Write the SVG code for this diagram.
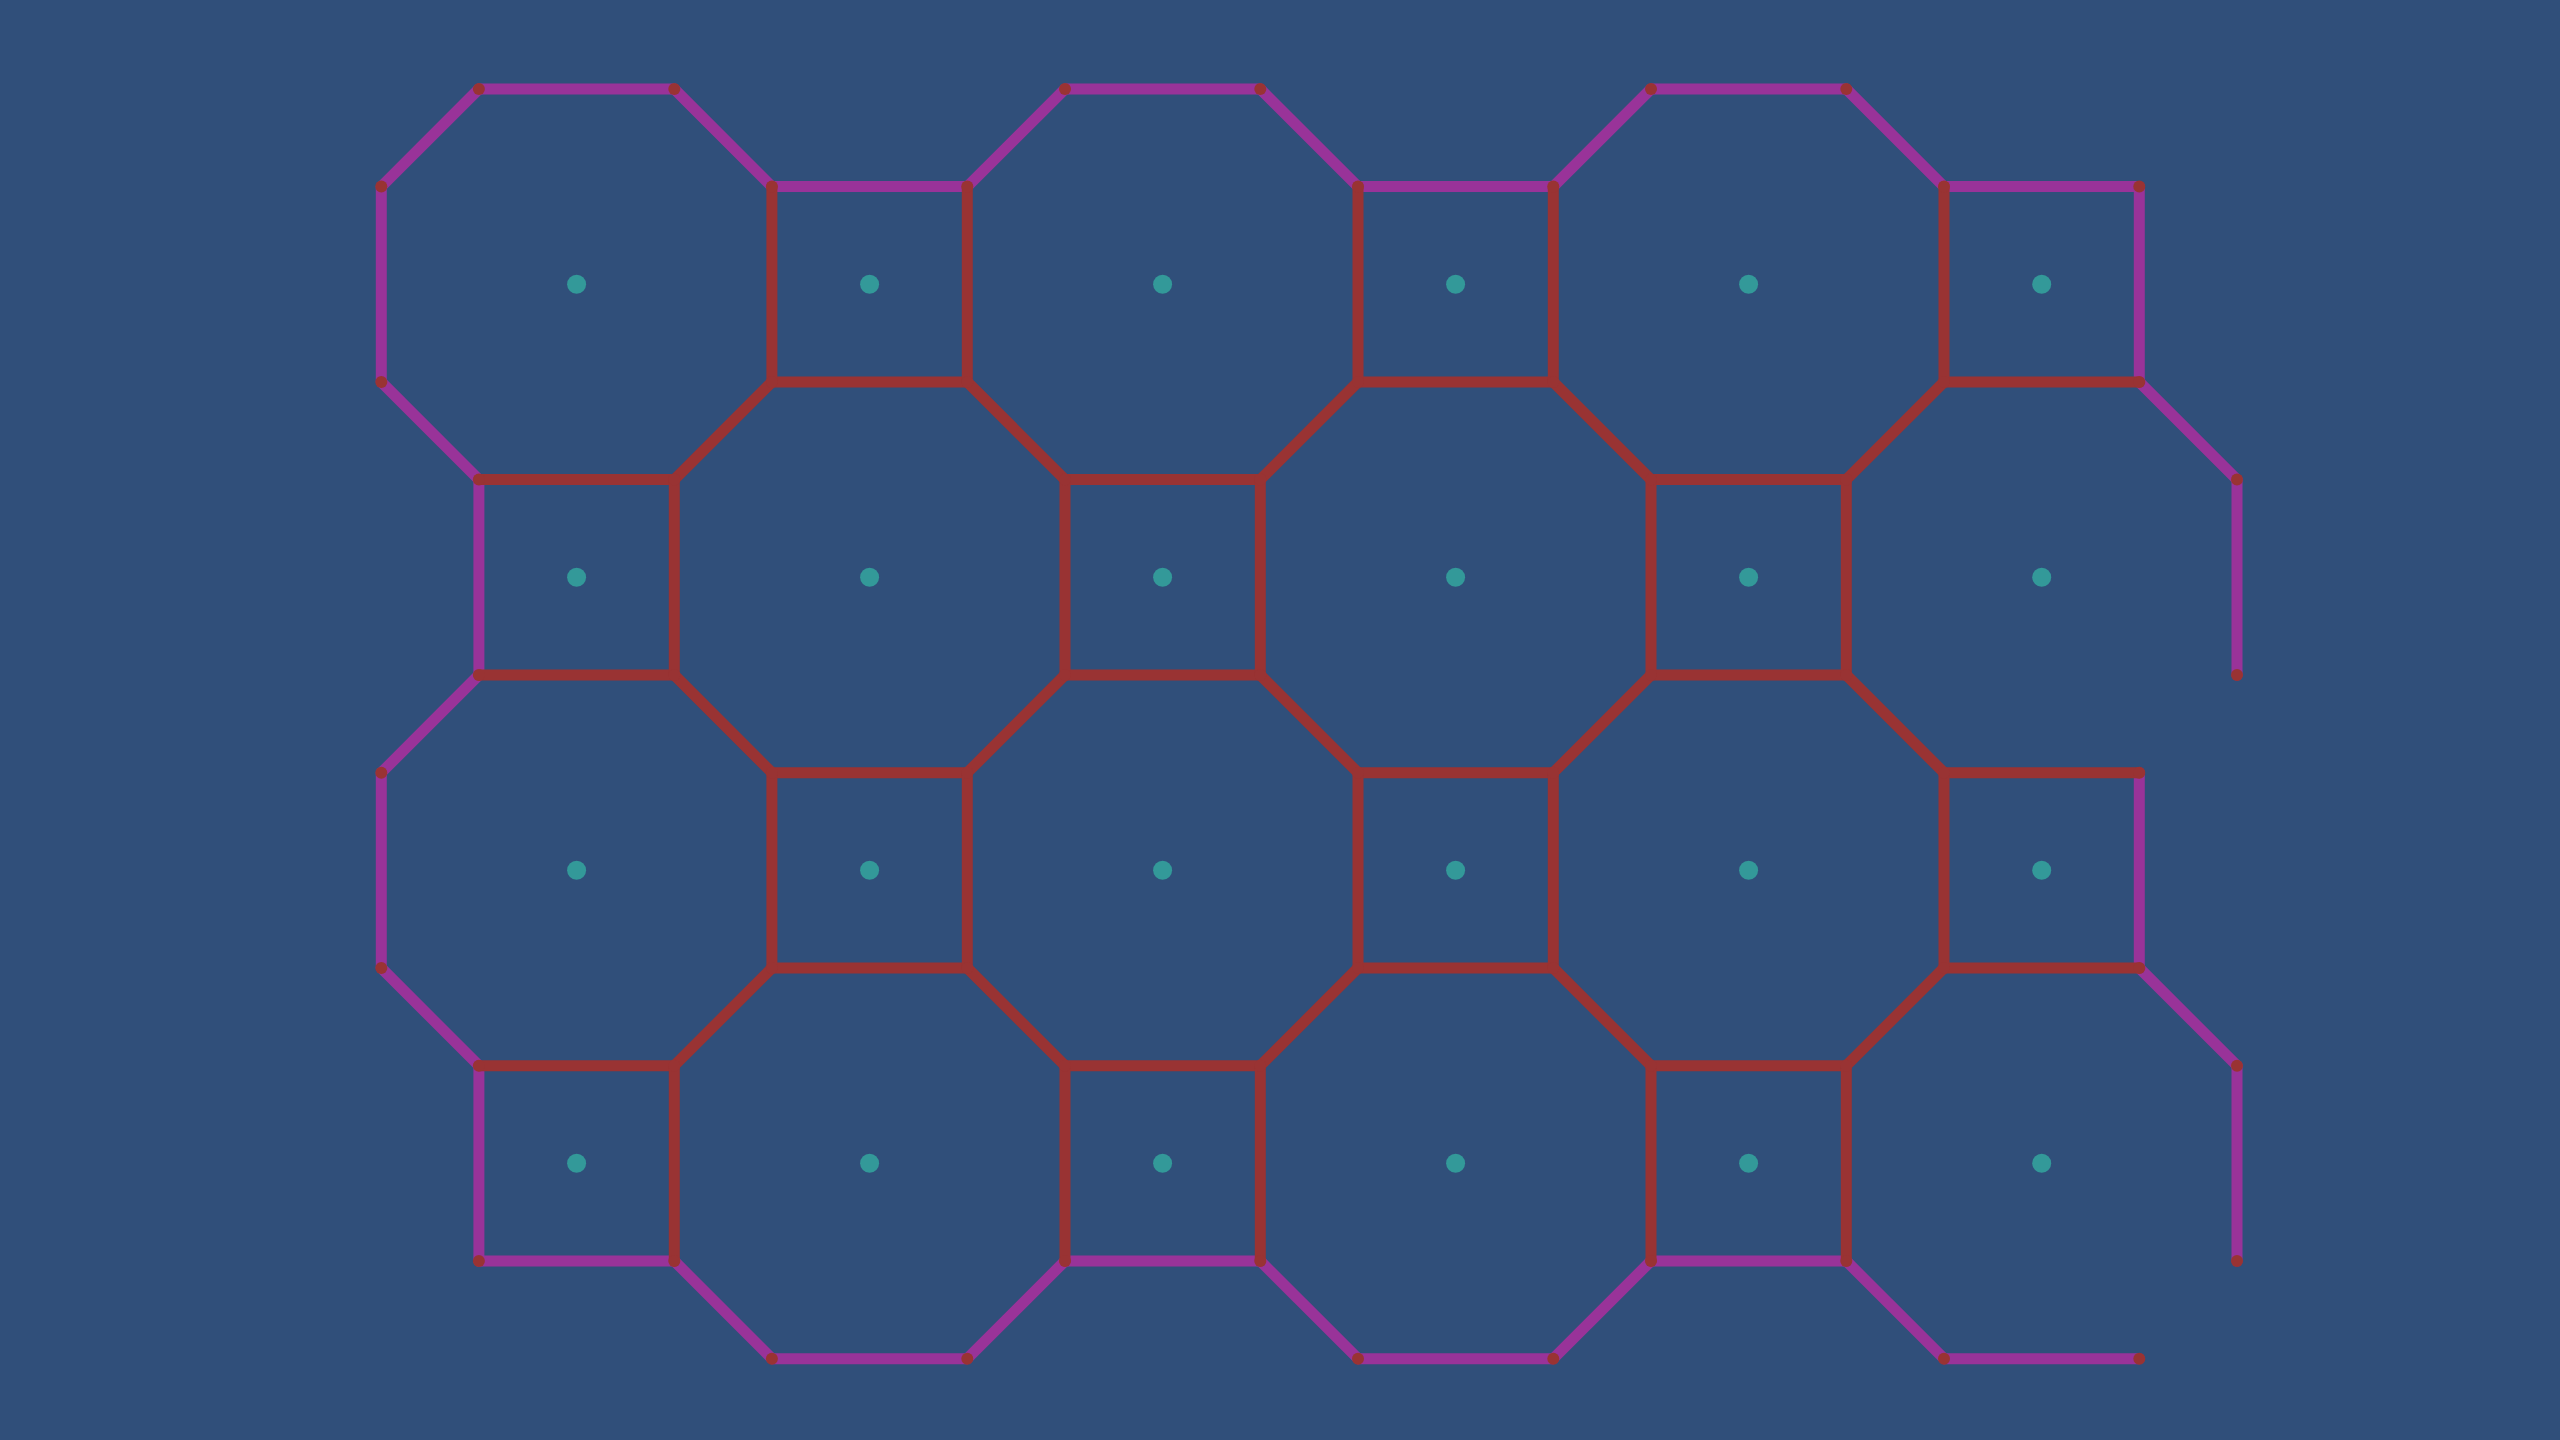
<svg xmlns="http://www.w3.org/2000/svg" width="2560" height="1440" viewBox="0 0 2560 1440">
<style>
.bg{fill:#304f7a}
.p{stroke:#993399;stroke-width:11;stroke-linecap:round;fill:none}
.r{stroke:#993333;stroke-width:11;stroke-linecap:round;fill:none}
.v{fill:#993333}
.c{fill:#339999}
</style>
<rect class="bg" x="0" y="0" width="2560" height="1440"/>
<g id="connectors">
<g id="boundary-edges" class="p">
<line x1="478.9" y1="89" x2="674.3" y2="89"/>
<line x1="1065" y1="89" x2="1260.3" y2="89"/>
<line x1="1651" y1="89" x2="1846.3" y2="89"/>
<line x1="771.9" y1="186.6" x2="967.3" y2="186.6"/>
<line x1="1358" y1="186.6" x2="1553.3" y2="186.6"/>
<line x1="1944" y1="186.6" x2="2139.3" y2="186.6"/>
<line x1="478.9" y1="1261" x2="674.3" y2="1261"/>
<line x1="1065" y1="1261" x2="1260.3" y2="1261"/>
<line x1="1651" y1="1261" x2="1846.3" y2="1261"/>
<line x1="771.9" y1="1358.7" x2="967.3" y2="1358.7"/>
<line x1="1358" y1="1358.7" x2="1553.3" y2="1358.7"/>
<line x1="1944" y1="1358.7" x2="2139.3" y2="1358.7"/>
<line x1="381.3" y1="186.6" x2="381.3" y2="382"/>
<line x1="381.3" y1="772.7" x2="381.3" y2="968"/>
<line x1="2139.3" y1="186.6" x2="2139.3" y2="382"/>
<line x1="2139.3" y1="772.7" x2="2139.3" y2="968"/>
<line x1="478.9" y1="479.6" x2="478.9" y2="675"/>
<line x1="478.9" y1="1065.7" x2="478.9" y2="1261"/>
<line x1="2237" y1="479.6" x2="2237" y2="675"/>
<line x1="2237" y1="1065.7" x2="2237" y2="1261"/>
<line x1="381.3" y1="186.6" x2="478.9" y2="89"/>
<line x1="674.3" y1="89" x2="771.9" y2="186.6"/>
<line x1="381.3" y1="382" x2="478.9" y2="479.6"/>
<line x1="967.3" y1="186.6" x2="1065" y2="89"/>
<line x1="1260.3" y1="89" x2="1358" y2="186.6"/>
<line x1="1553.3" y1="186.6" x2="1651" y2="89"/>
<line x1="1846.3" y1="89" x2="1944" y2="186.6"/>
<line x1="2139.3" y1="382" x2="2237" y2="479.6"/>
<line x1="381.3" y1="772.7" x2="478.9" y2="675"/>
<line x1="381.3" y1="968" x2="478.9" y2="1065.7"/>
<line x1="2139.3" y1="968" x2="2237" y2="1065.7"/>
<line x1="674.3" y1="1261" x2="771.9" y2="1358.7"/>
<line x1="967.3" y1="1358.7" x2="1065" y2="1261"/>
<line x1="1260.3" y1="1261" x2="1358" y2="1358.7"/>
<line x1="1553.3" y1="1358.7" x2="1651" y2="1261"/>
<line x1="1846.3" y1="1261" x2="1944" y2="1358.7"/>
</g>
<g id="shared-edges" class="r">
<line x1="478.9" y1="479.6" x2="674.3" y2="479.6"/>
<line x1="1065" y1="479.6" x2="1260.3" y2="479.6"/>
<line x1="1651" y1="479.6" x2="1846.3" y2="479.6"/>
<line x1="478.9" y1="675" x2="674.3" y2="675"/>
<line x1="1065" y1="675" x2="1260.3" y2="675"/>
<line x1="1651" y1="675" x2="1846.3" y2="675"/>
<line x1="478.9" y1="1065.7" x2="674.3" y2="1065.7"/>
<line x1="1065" y1="1065.7" x2="1260.3" y2="1065.7"/>
<line x1="1651" y1="1065.7" x2="1846.3" y2="1065.7"/>
<line x1="771.9" y1="382" x2="967.3" y2="382"/>
<line x1="1358" y1="382" x2="1553.3" y2="382"/>
<line x1="1944" y1="382" x2="2139.3" y2="382"/>
<line x1="771.9" y1="772.7" x2="967.3" y2="772.7"/>
<line x1="1358" y1="772.7" x2="1553.3" y2="772.7"/>
<line x1="1944" y1="772.7" x2="2139.3" y2="772.7"/>
<line x1="771.9" y1="968" x2="967.3" y2="968"/>
<line x1="1358" y1="968" x2="1553.3" y2="968"/>
<line x1="1944" y1="968" x2="2139.3" y2="968"/>
<line x1="771.9" y1="186.6" x2="771.9" y2="382"/>
<line x1="967.3" y1="186.6" x2="967.3" y2="382"/>
<line x1="1358" y1="186.6" x2="1358" y2="382"/>
<line x1="1553.3" y1="186.6" x2="1553.3" y2="382"/>
<line x1="1944" y1="186.6" x2="1944" y2="382"/>
<line x1="771.9" y1="772.7" x2="771.9" y2="968"/>
<line x1="967.3" y1="772.7" x2="967.3" y2="968"/>
<line x1="1358" y1="772.7" x2="1358" y2="968"/>
<line x1="1553.3" y1="772.7" x2="1553.3" y2="968"/>
<line x1="1944" y1="772.7" x2="1944" y2="968"/>
<line x1="674.3" y1="479.6" x2="674.3" y2="675"/>
<line x1="1065" y1="479.6" x2="1065" y2="675"/>
<line x1="1260.3" y1="479.6" x2="1260.3" y2="675"/>
<line x1="1651" y1="479.6" x2="1651" y2="675"/>
<line x1="1846.3" y1="479.6" x2="1846.3" y2="675"/>
<line x1="674.3" y1="1065.7" x2="674.3" y2="1261"/>
<line x1="1065" y1="1065.7" x2="1065" y2="1261"/>
<line x1="1260.3" y1="1065.7" x2="1260.3" y2="1261"/>
<line x1="1651" y1="1065.7" x2="1651" y2="1261"/>
<line x1="1846.3" y1="1065.7" x2="1846.3" y2="1261"/>
<line x1="674.3" y1="479.6" x2="771.9" y2="382"/>
<line x1="967.3" y1="382" x2="1065" y2="479.6"/>
<line x1="1260.3" y1="479.6" x2="1358" y2="382"/>
<line x1="1553.3" y1="382" x2="1651" y2="479.6"/>
<line x1="1846.3" y1="479.6" x2="1944" y2="382"/>
<line x1="674.3" y1="675" x2="771.9" y2="772.7"/>
<line x1="967.3" y1="772.7" x2="1065" y2="675"/>
<line x1="1260.3" y1="675" x2="1358" y2="772.7"/>
<line x1="1553.3" y1="772.7" x2="1651" y2="675"/>
<line x1="1846.3" y1="675" x2="1944" y2="772.7"/>
<line x1="674.3" y1="1065.7" x2="771.9" y2="968"/>
<line x1="967.3" y1="968" x2="1065" y2="1065.7"/>
<line x1="1260.3" y1="1065.7" x2="1358" y2="968"/>
<line x1="1553.3" y1="968" x2="1651" y2="1065.7"/>
<line x1="1846.3" y1="1065.7" x2="1944" y2="968"/>
</g>
</g>
<g id="vertices" class="v">
<g id="v-r0"><circle cx="478.9" cy="89" r="6"/><circle cx="674.3" cy="89" r="6"/><circle cx="1065" cy="89" r="6"/><circle cx="1260.3" cy="89" r="6"/><circle cx="1651" cy="89" r="6"/><circle cx="1846.3" cy="89" r="6"/></g>
<g id="v-r1"><circle cx="381.3" cy="186.6" r="6"/><circle cx="771.9" cy="186.6" r="6"/><circle cx="967.3" cy="186.6" r="6"/><circle cx="1358" cy="186.6" r="6"/><circle cx="1553.3" cy="186.6" r="6"/><circle cx="1944" cy="186.6" r="6"/><circle cx="2139.3" cy="186.6" r="6"/></g>
<g id="v-r2"><circle cx="381.3" cy="382" r="6"/><circle cx="771.9" cy="382" r="6"/><circle cx="967.3" cy="382" r="6"/><circle cx="1358" cy="382" r="6"/><circle cx="1553.3" cy="382" r="6"/><circle cx="1944" cy="382" r="6"/><circle cx="2139.3" cy="382" r="6"/></g>
<g id="v-r3"><circle cx="478.9" cy="479.6" r="6"/><circle cx="674.3" cy="479.6" r="6"/><circle cx="1065" cy="479.6" r="6"/><circle cx="1260.3" cy="479.6" r="6"/><circle cx="1651" cy="479.6" r="6"/><circle cx="1846.3" cy="479.6" r="6"/><circle cx="2237" cy="479.6" r="6"/></g>
<g id="v-r4"><circle cx="478.9" cy="675" r="6"/><circle cx="674.3" cy="675" r="6"/><circle cx="1065" cy="675" r="6"/><circle cx="1260.3" cy="675" r="6"/><circle cx="1651" cy="675" r="6"/><circle cx="1846.3" cy="675" r="6"/><circle cx="2237" cy="675" r="6"/></g>
<g id="v-r5"><circle cx="381.3" cy="772.7" r="6"/><circle cx="771.9" cy="772.7" r="6"/><circle cx="967.3" cy="772.7" r="6"/><circle cx="1358" cy="772.7" r="6"/><circle cx="1553.3" cy="772.7" r="6"/><circle cx="1944" cy="772.7" r="6"/><circle cx="2139.3" cy="772.7" r="6"/></g>
<g id="v-r6"><circle cx="381.3" cy="968" r="6"/><circle cx="771.9" cy="968" r="6"/><circle cx="967.3" cy="968" r="6"/><circle cx="1358" cy="968" r="6"/><circle cx="1553.3" cy="968" r="6"/><circle cx="1944" cy="968" r="6"/><circle cx="2139.3" cy="968" r="6"/></g>
<g id="v-r7"><circle cx="478.9" cy="1065.7" r="6"/><circle cx="674.3" cy="1065.7" r="6"/><circle cx="1065" cy="1065.7" r="6"/><circle cx="1260.3" cy="1065.7" r="6"/><circle cx="1651" cy="1065.7" r="6"/><circle cx="1846.3" cy="1065.7" r="6"/><circle cx="2237" cy="1065.7" r="6"/></g>
<g id="v-r8"><circle cx="478.9" cy="1261" r="6"/><circle cx="674.3" cy="1261" r="6"/><circle cx="1065" cy="1261" r="6"/><circle cx="1260.3" cy="1261" r="6"/><circle cx="1651" cy="1261" r="6"/><circle cx="1846.3" cy="1261" r="6"/><circle cx="2237" cy="1261" r="6"/></g>
<g id="v-r9"><circle cx="771.9" cy="1358.7" r="6"/><circle cx="967.3" cy="1358.7" r="6"/><circle cx="1358" cy="1358.7" r="6"/><circle cx="1553.3" cy="1358.7" r="6"/><circle cx="1944" cy="1358.7" r="6"/><circle cx="2139.3" cy="1358.7" r="6"/></g>
</g>
<g id="faces" class="c">
<g id="face-0-0"><circle cx="576.6" cy="284.3" r="9.5"/></g>
<g id="face-1-0"><circle cx="869.6" cy="284.3" r="9.5"/></g>
<g id="face-2-0"><circle cx="1162.6" cy="284.3" r="9.5"/></g>
<g id="face-3-0"><circle cx="1455.6" cy="284.3" r="9.5"/></g>
<g id="face-4-0"><circle cx="1748.6" cy="284.3" r="9.5"/></g>
<g id="face-5-0"><circle cx="2041.7" cy="284.3" r="9.5"/></g>
<g id="face-0-1"><circle cx="576.6" cy="577.3" r="9.5"/></g>
<g id="face-1-1"><circle cx="869.6" cy="577.3" r="9.5"/></g>
<g id="face-2-1"><circle cx="1162.6" cy="577.3" r="9.5"/></g>
<g id="face-3-1"><circle cx="1455.6" cy="577.3" r="9.5"/></g>
<g id="face-4-1"><circle cx="1748.6" cy="577.3" r="9.5"/></g>
<g id="face-5-1"><circle cx="2041.7" cy="577.3" r="9.5"/></g>
<g id="face-0-2"><circle cx="576.6" cy="870.3" r="9.5"/></g>
<g id="face-1-2"><circle cx="869.6" cy="870.3" r="9.5"/></g>
<g id="face-2-2"><circle cx="1162.6" cy="870.3" r="9.5"/></g>
<g id="face-3-2"><circle cx="1455.6" cy="870.3" r="9.5"/></g>
<g id="face-4-2"><circle cx="1748.6" cy="870.3" r="9.5"/></g>
<g id="face-5-2"><circle cx="2041.7" cy="870.3" r="9.5"/></g>
<g id="face-0-3"><circle cx="576.6" cy="1163.3" r="9.5"/></g>
<g id="face-1-3"><circle cx="869.6" cy="1163.3" r="9.5"/></g>
<g id="face-2-3"><circle cx="1162.6" cy="1163.3" r="9.5"/></g>
<g id="face-3-3"><circle cx="1455.6" cy="1163.3" r="9.5"/></g>
<g id="face-4-3"><circle cx="1748.6" cy="1163.3" r="9.5"/></g>
<g id="face-5-3"><circle cx="2041.7" cy="1163.3" r="9.5"/></g>
</g>
</svg>
